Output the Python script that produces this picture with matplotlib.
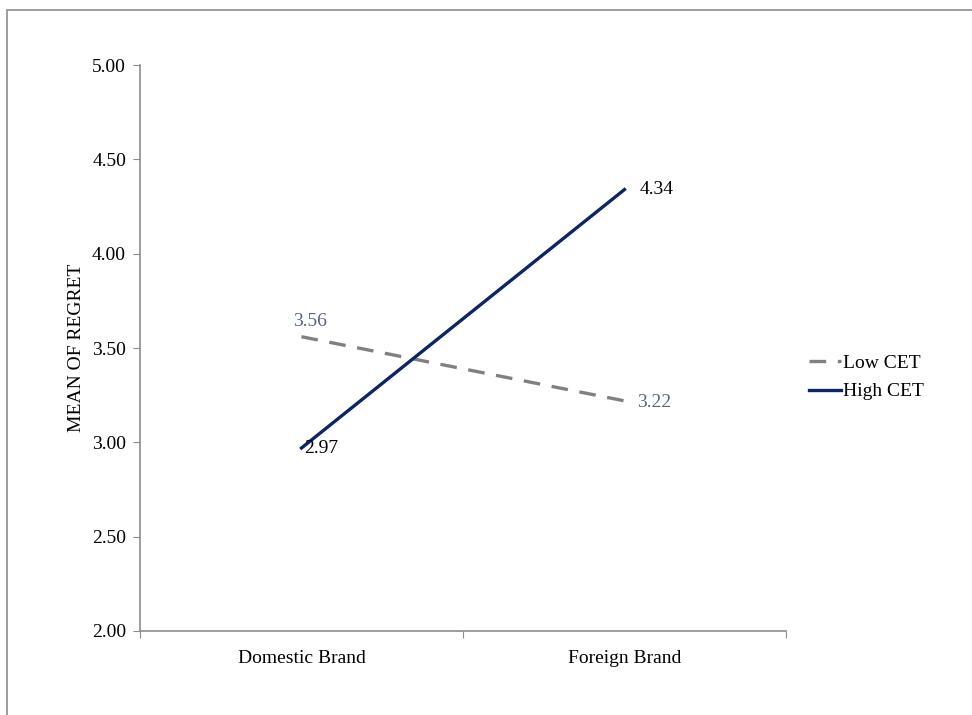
import matplotlib.pyplot as plt
from matplotlib.patches import Rectangle

plt.rcParams['font.family'] = ['Liberation Serif', 'DejaVu Serif']

# data
brands = ["Domestic Brand", "Foreign Brand"]
low_cet = [3.56, 3.22]
high_cet = [2.97, 4.34]
yticks = [2.0, 2.5, 3.0, 3.5, 4.0, 4.5, 5.0]

FS = 14

fig = plt.figure(figsize=(9.72, 7.15), dpi=100)
ax = fig.add_axes([0.144, 0.1175, 0.6646, 0.7915])

# outer chart border (goes off the right/bottom edge)
fig.patches.append(Rectangle((0.0077, -0.1), 2.0, 1.086, transform=fig.transFigure,
                             fill=False, edgecolor='#8c8c8c', linewidth=1.2))

x = [0.5, 1.5]
ax.plot(x, low_cet, color='#808080', lw=2.4, dashes=(5, 3.5), label='Low CET')
ax.plot(x, high_cet, color='#0d2466', lw=2.4, label='High CET')

# value labels
ax.annotate(f"{low_cet[0]:.2f}", (x[0], low_cet[0]), xytext=(6, 5), textcoords='offset points',
            ha='center', va='bottom', fontsize=FS, color='#56657f')
ax.annotate(f"{low_cet[1]:.2f}", (x[1], low_cet[1]), xytext=(9, -1), textcoords='offset points',
            ha='left', va='center', fontsize=FS, color='#56657f')
ax.annotate(f"{high_cet[0]:.2f}", (x[0], high_cet[0]), xytext=(2, 0), textcoords='offset points',
            ha='left', va='center', fontsize=FS, color='black')
ax.annotate(f"{high_cet[1]:.2f}", (x[1], high_cet[1]), xytext=(11, 0), textcoords='offset points',
            ha='left', va='center', fontsize=FS, color='black')

ax.set_xlim(0, 2)
ax.set_ylim(2, 5)
ax.set_yticks(yticks)
ax.set_yticklabels([f"{v:.2f}" for v in yticks], fontsize=FS)
ax.set_xticks([0, 1, 2])
ax.set_xticklabels([])
ax.set_xticks(x, minor=True)
ax.set_xticklabels(brands, minor=True, fontsize=FS)
ax.tick_params(axis='x', which='minor', length=0, pad=14)
ax.tick_params(axis='x', which='major', length=5, color='#8c8c8c')
ax.tick_params(axis='y', length=5, color='#8c8c8c', pad=5)
ax.set_ylabel("MEAN OF REGRET", fontsize=FS, labelpad=5)

for s in ['top', 'right']:
    ax.spines[s].set_visible(False)
for s in ['left', 'bottom']:
    ax.spines[s].set_color('#8c8c8c')
    ax.spines[s].set_linewidth(1.2)

fig.legend(loc='center left', bbox_to_anchor=(0.814, 0.472), frameon=False, fontsize=FS,
           handlelength=1.65, handletextpad=0.1, labelspacing=0.55)

fig.savefig("out.png", dpi=100)
